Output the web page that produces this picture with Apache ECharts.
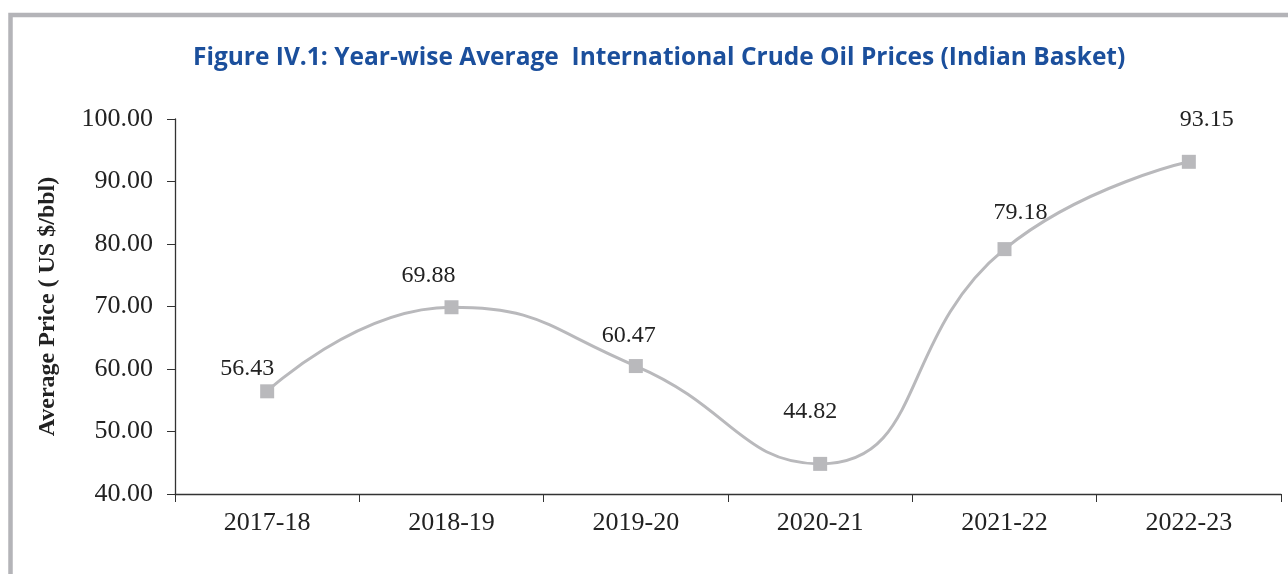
<!DOCTYPE html>
<html><head><meta charset="utf-8">
<script src="https://cdn.jsdelivr.net/npm/echarts@6/dist/echarts.min.js"></script>
<style>html,body{margin:0;padding:0;background:#fff}#c{width:1288px;height:574px}</style>
</head><body><div id="c"></div>
<script>
const categories = ['2017-18','2018-19','2019-20','2020-21','2021-22','2022-23'];
const prices = [56.43, 69.88, 60.47, 44.82, 79.18, 93.15];
const titleText = 'Figure IV.1: Year-wise Average  International Crude Oil Prices (Indian Basket)';
const yAxisName = 'Average Price ( US $/bbl)';
// label placement (layout only)
const labelOffsets = [[-20,-23],[-23,-32],[-7,-30],[-10,-52],[16,-36],[18,-42]];

const seriesData = prices.map((v, i) => ({ value: v, label: { offset: labelOffsets[i] } }));

const chart = echarts.init(document.getElementById('c'));
chart.setOption({
  animation: false,
  backgroundColor: '#fff',
  title: {
    text: titleText, left: 188, top: 41,
    textStyle: { color: '#1b4f9c', fontFamily: 'Open Sans', fontWeight: 'bold', fontSize: 24.5 }
  },
  graphic: [{
    type: 'polyline', silent: true,
    shape: { points: [[10.5, 574], [10.5, 15], [1288, 15]] },
    style: { stroke: '#b4b4b8', lineWidth: 4.5, fill: null }
  }],
  grid: { left: 175, right: 7, top: 119, bottom: 80 },
  xAxis: {
    type: 'category', data: categories, boundaryGap: true,
    axisLine: { lineStyle: { color: '#333', width: 1.3 } },
    axisTick: { show: true, length: 8, alignWithLabel: false, lineStyle: { color: '#333' } },
    axisLabel: { color: '#222', fontFamily: 'Liberation Serif', fontSize: 26, margin: 16 }
  },
  yAxis: {
    type: 'value', min: 40, max: 100, interval: 10,
    name: yAxisName, nameLocation: 'middle', nameGap: 115, nameRotate: 90,
    nameTextStyle: { color: '#222', fontFamily: 'Liberation Serif', fontWeight: 'bold', fontSize: 24 },
    axisLine: { show: true, lineStyle: { color: '#333', width: 1.3 } },
    axisTick: { show: true, length: 8, lineStyle: { color: '#333' } },
    splitLine: { show: false },
    axisLabel: { color: '#222', fontFamily: 'Liberation Serif', fontSize: 26, margin: 22,
      formatter: v => v.toFixed(2) }
  },
  series: [{
    type: 'line', data: seriesData, smooth: 0.5,
    symbol: 'rect', symbolSize: 14,
    lineStyle: { color: '#b9b9bc', width: 3 },
    itemStyle: { color: '#b9b9bc' },
    label: { show: true, position: 'inside', color: '#222',
      fontFamily: 'Liberation Serif', fontSize: 24, formatter: p => p.value.toFixed(2) }
  }]
});
</script></body></html>
